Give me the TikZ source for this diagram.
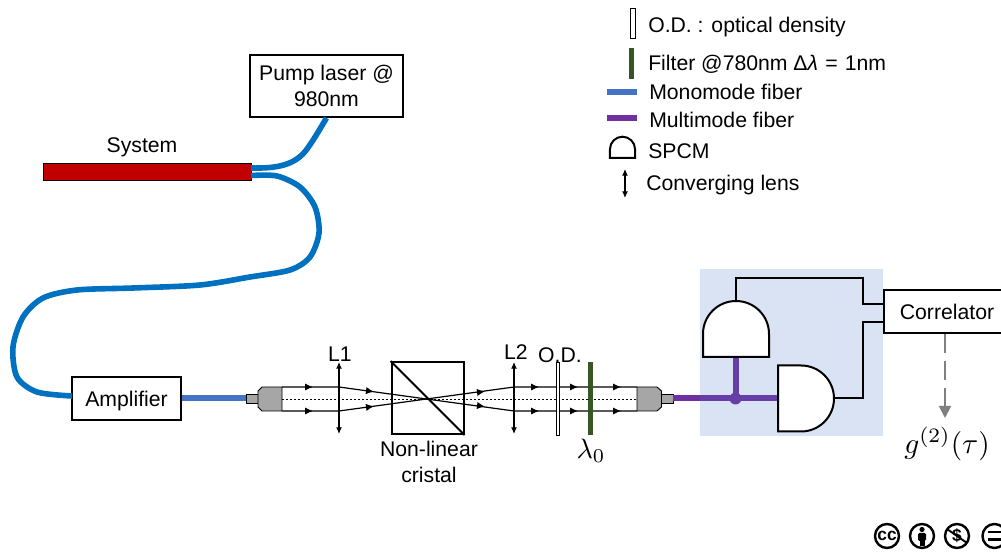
\documentclass[tikz,border=0pt]{standalone}
\usepackage{fontspec}
\setmainfont{Liberation Sans}
\usetikzlibrary{arrows.meta}
\definecolor{fiberblue}{HTML}{0070C0}
\definecolor{monoblue}{HTML}{4472C4}
\definecolor{multipurple}{HTML}{7030A0}
\definecolor{filtergreen}{HTML}{375623}
\definecolor{sysred}{HTML}{C00000}
\definecolor{collgray}{HTML}{A6A6A6}
\tikzset{
  box/.style={draw, line width=1.5pt, fill=white, inner sep=0pt, align=center},
  fiber/.style={fiberblue, line width=4.2pt},
  mono/.style={monoblue, line width=4.5pt},
  multi/.style={multipurple, line width=4.5pt},
  wire/.style={line width=1.5pt},
  beam/.style={line width=0.9pt},
  lens/.style={line width=0.9pt, {Latex[length=5pt,width=4.5pt]}-{Latex[length=5pt,width=4.5pt]}},
  tip/.style={-{Latex[length=6pt,width=5.5pt]}},
  ccring/.style={line width=1.8pt},
  legendtxt/.style={anchor=base west, inner sep=0pt},
  spcm/.pic={
    \draw[line width=1.5pt, fill=white] (-33,0) -- (-33,-23)
      .. controls (-33,-41.5) and (-18,-56) .. (0,-56)
      .. controls (18,-56) and (33,-41.5) .. (33,-23) -- (33,0) -- cycle;
    \coordinate (-base) at (0,0);
    \coordinate (-tip) at (0,-56);
  }
}
\begin{document}
\begin{tikzpicture}[x=0.75pt, y=-0.75pt, font=\fontsize{15.9}{19.5}\selectfont]
  \useasboundingbox (0,0) rectangle (1001,552);
  % legend
  \draw[line width=0.6pt, fill=white] (630,8) rectangle (635,38);
  \node[legendtxt] (txtod) at (648,33) {O.D. : optical density};
  \fill[filtergreen] (629,48) rectangle (634,79);
  \node[legendtxt] (txtfilter) at (648,71) {Filter @780nm Δ{\itshape λ}\hspace{1pt} = \hspace{1pt}1nm};
  \draw[mono] (607,92) -- (637,92);
  \node[legendtxt] (txtmono) at (649,100) {Monomode fiber};
  \draw[multi] (607,118) -- (637,118);
  \node[legendtxt] (txtmulti) at (649,127.5) {Multimode fiber};
  \pic[scale=0.38] at (622.5,158) {spcm};
  \node[legendtxt] (txtspcm) at (648,159) {SPCM};
  \draw[lens] (625,169) -- (625,198);
  \node[legendtxt] (txtlens) at (646,191) {Converging lens};
  % sources
  \node[box, minimum width=114.75pt, minimum height=46.5pt] (pump) at (326.5,86) {Pump laser @\\980nm};
  \node[draw, line width=0.6pt, fill=sysred, minimum width=156pt, minimum height=12.75pt, inner sep=0pt] (sys) at (147,171.5) {};
  \node (txtsys) at (142,147.5) {System};
  \node[box, text depth=0pt, minimum width=81.75pt, minimum height=32.25pt] (amp) at (126.5,398.5) {Amplifier};
  % fibers
  \coordinate (sysa) at (251,168);
  \coordinate (sysb) at (251,175.5);
  \draw[fiber] (sysa) .. controls (275,168.5) and (295,166) .. (307,149)
    .. controls (315,138) and (321,127) .. (pump.south);
  \draw[fiber] plot[smooth, tension=0.5] coordinates {(sysb) (277,176) (300,187) (315,207) (319,233) (310,257) (290,270) (250,277) (200,285) (133,288) (77,290) (43,298) (23,317) (13,347) (17,377) (37,392) (72,396)};
  \coordinate (colla) at (246,398.5);
  \draw[mono] (amp.east |- colla) -- (colla);
  % left collimator
  \draw[line width=0.7pt, fill=collgray] (246,394) rectangle (258,403);
  \draw[line width=0.7pt, fill=collgray] (258,391) -- (262,387) -- (282,387) -- (282,411) -- (262,411) -- (258,407) -- cycle;
  % beams
  \draw[beam] (282,387) -- (339,387) -- (514,411) -- (637,411);
  \draw[beam] (282,411) -- (339,411) -- (514,387) -- (637,387);
  \draw[line width=0.7pt, dash pattern=on 1.8pt off 1.2pt] (282,399) -- (637,399);
  \foreach \x in {312,538,577,620}
    \foreach \y in {387,411}
      \draw[beam, tip] (\x-4,\y) -- (\x+1,\y);
  \draw[beam, tip] (368,390.9) -- (374,391.7);
  \draw[beam, tip] (368,407.1) -- (374,406.3);
  \draw[beam, tip] (479,392.2) -- (485,391.4);
  \draw[beam, tip] (479,405.8) -- (485,406.6);
  % lenses
  \draw[lens] (339,362) -- (339,434);
  \node (txtlone) at (340,354) {L1};
  \draw[lens] (514,362) -- (514,434);
  \node (txtltwo) at (516,352) {L2};
  % crystal
  \node[box, fill=none, minimum width=54pt, minimum height=54pt] (cube) at (427.5,398) {};
  \draw[line width=1.5pt] (cube.north west) -- (cube.south east);
  \node[align=center] (txtcube) at (429,461.5) {Non-linear\\cristal};
  % density and filter
  \draw[line width=0.6pt, fill=white] (556,362) rectangle (559.5,435);
  \node (txtdens) at (560,355) {O.D.};
  \fill[filtergreen] (588,362) rectangle (593,435);
  \node[scale=2.1, font=\normalfont] (txtfil) at (591,451) {$\lambda_0$};
  % right collimator
  \draw[line width=0.7pt, fill=collgray] (637,387) -- (657,387) -- (661.5,391) -- (661.5,407) -- (657,411) -- (637,411) -- cycle;
  \draw[line width=0.7pt, fill=collgray] (661.5,394) rectangle (673,403);
  % detection
  \coordinate (split) at (735.5,398.5);
  \draw[multi] (673,398.5) -- (778,398.5);
  \draw[multi] (split) -- (735.5,357);
  \fill[multipurple] (split) circle (6);
  \fill[monoblue, opacity=0.2] (700,269) rectangle (883,436.5);
  \pic (detup) at (736,357) {spcm};
  \pic[rotate=-90] (detright) at (778,398.5) {spcm};
  \node[box, minimum width=94.5pt, minimum height=32.25pt] (corr) at (947,311.5) {Correlator};
  \coordinate (corrin) at (corr.west);
  \draw[wire] (detup-tip) -- (736,278) -- (863,278) -- (863,304) -- (corrin |- 0,304);
  \draw[wire] (detright-tip) -- (863,398.5) -- (863,322) -- (corrin |- 0,322);
  % output
  \coordinate (gout) at (945,418);
  \draw[gray, line width=1.5pt, dash pattern=on 14.2pt off 6pt, -{Triangle[length=9pt,width=9pt]}] (gout |- corr.south) -- (gout);
  \node[scale=2.2, font=\normalfont] (txtg) at (947,444) {$g^{(2)}(\tau)$};
  % licence icons
  \draw[ccring] (887,536) circle (12);
  \node[font=\bfseries\fontsize{13}{13}\selectfont, inner sep=0pt] (txtcc) at (887,535.5) {cc};
  \draw[ccring] (922,536) circle (12);
  \fill (922,529.5) circle (2.6);
  \fill[rounded corners=1pt] (918,533) rectangle (926,541);
  \fill (919.5,540) rectangle (924.5,546);
  \draw[ccring] (957,536) circle (12);
  \node[font=\bfseries\fontsize{13}{13}\selectfont, inner sep=0pt] (txtusd) at (957,536) {\$};
  \draw[line width=1.4pt] (947,529) -- (967,543);
  \draw[ccring] (994.5,536) circle (12);
  \draw[line width=2pt] (988,532) -- (1001,532);
  \draw[line width=2pt] (988,539.5) -- (1001,539.5);
\end{tikzpicture}
\end{document}
